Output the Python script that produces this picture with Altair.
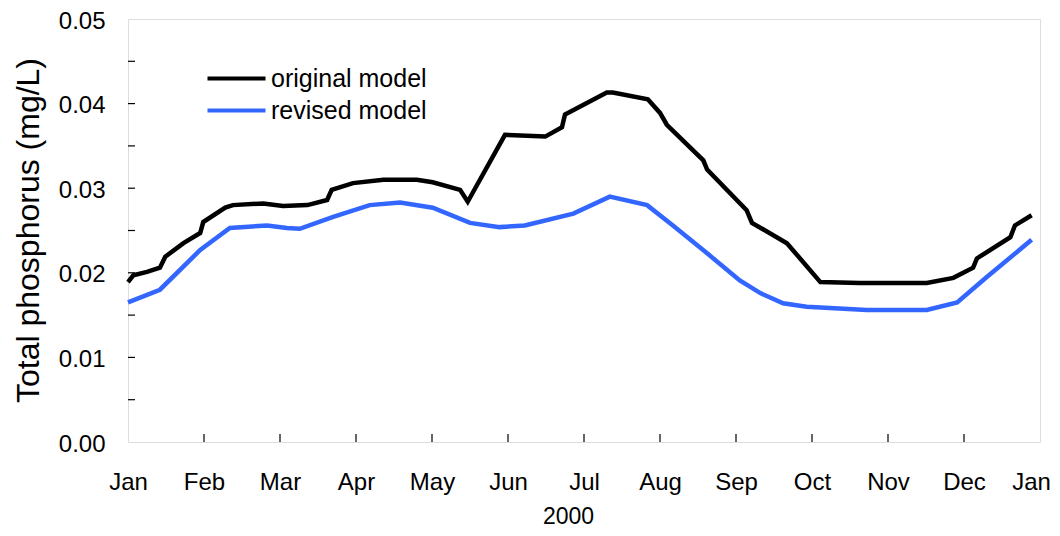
import altair as alt
import pandas as pd

# ---- data ----
month_labels = ["Jan", "Feb", "Mar", "Apr", "May", "Jun", "Jul", "Aug",
                "Sep", "Oct", "Nov", "Dec", "Jan"]

orig_month = [0.00, 0.07, 0.25, 0.42, 0.49, 0.73, 0.95, 0.99, 1.28, 1.38,
              1.78, 2.04, 2.36, 2.62, 2.68, 2.96, 3.36, 3.80, 4.01, 4.37,
              4.47, 4.96, 5.49, 5.71, 5.75, 6.30, 6.38, 6.84, 7.00, 7.09,
              7.57, 7.62, 8.14, 8.21, 8.67, 9.11, 9.63, 10.51, 10.86, 11.12,
              11.17, 11.61, 11.67, 11.89]
orig_value = [0.0189, 0.0197, 0.0201, 0.0206, 0.0219, 0.0235, 0.0247, 0.0260, 0.0277, 0.0280,
              0.0282, 0.0279, 0.0280, 0.0286, 0.0298, 0.0306, 0.0310, 0.0310, 0.0307, 0.0298,
              0.0284, 0.0363, 0.0361, 0.0372, 0.0387, 0.0413, 0.0413, 0.0405, 0.0389, 0.0375,
              0.0333, 0.0322, 0.0274, 0.0259, 0.0235, 0.0189, 0.0188, 0.0188, 0.0194, 0.0206,
              0.0217, 0.0242, 0.0256, 0.0268]

rev_month = [0.00, 0.42, 0.95, 1.34, 1.83, 2.09, 2.26, 2.70, 3.18, 3.58,
             4.01, 4.50, 4.89, 5.22, 5.86, 6.34, 6.83, 7.17, 7.62, 8.05,
             8.32, 8.62, 8.93, 9.72, 10.51, 10.91, 11.30, 11.89]
rev_value = [0.0165, 0.0180, 0.0227, 0.0253, 0.0256, 0.0253, 0.0252, 0.0266, 0.0280, 0.0283,
             0.0277, 0.0259, 0.0254, 0.0256, 0.0270, 0.0290, 0.0280, 0.0256, 0.0223, 0.0191,
             0.0176, 0.0164, 0.0160, 0.0156, 0.0156, 0.0165, 0.0195, 0.0239]

series_names = ["original model", "revised model"]
series_colors = ["#000000", "#3366ff"]

x_minor_ticks = list(range(1, 12))
y_minor_ticks = [0.005, 0.010, 0.015, 0.020, 0.025, 0.030, 0.035, 0.040, 0.045]

# ---- tables ----
df = pd.concat([
    pd.DataFrame({"month": orig_month, "value": orig_value, "series": series_names[0]}),
    pd.DataFrame({"month": rev_month, "value": rev_value, "series": series_names[1]}),
])
xt = pd.DataFrame({"month": x_minor_ticks})
yt = pd.DataFrame({"value": y_minor_ticks})

W, H = 912, 423
FONT = "Liberation Sans"

label_expr = "[" + ",".join(f"'{m}'" for m in month_labels) + "][datum.value]"

xscale = alt.Scale(domain=[0, 12], nice=False, zero=False)
yscale = alt.Scale(domain=[0, 0.05], nice=False)

xaxis = alt.Axis(values=list(range(13)), labelExpr=label_expr, ticks=False, domain=False,
                 grid=False, labelFontSize=24, labelFont=FONT, labelColor="black",
                 labelPadding=28, labelFlush=False, title="2000", titleFont=FONT,
                 titleFontSize=23, titleFontWeight="normal", titleColor="black",
                 titleX=440, titleY=81, titleAlign="center", titleBaseline="alphabetic",
                 labelOffset={"condition": {"test": "datum.value == 12", "value": -9},
                              "value": 0})
yaxis = alt.Axis(values=[0, 0.01, 0.02, 0.03, 0.04, 0.05], format=".2f", ticks=False,
                 domain=False, grid=False, labelFontSize=24, labelFont=FONT,
                 labelColor="black", labelPadding=23, labelFlush=False, labelOffset=2,
                 title="Total phosphorus (mg/L)", titleFont=FONT, titleFontSize=32,
                 titleFontWeight="normal", titleColor="black", titleX=-100, titleY=211,
                 titleAlign="center", titleBaseline="middle", titleAngle=-90)

lines = alt.Chart(df).mark_line(strokeWidth=4.5, interpolate="linear").encode(
    x=alt.X("month:Q", scale=xscale, axis=xaxis),
    y=alt.Y("value:Q", scale=yscale, axis=yaxis),
    color=alt.Color("series:N",
                    scale=alt.Scale(domain=series_names, range=series_colors),
                    legend=alt.Legend(orient="none", legendX=115, legendY=47,
                                      title=None, padding=0, rowPadding=6,
                                      symbolType="M-4.8,0H1", symbolSize=400,
                                      symbolStrokeWidth=4, labelFont=FONT,
                                      labelFontSize=25, labelColor="black",
                                      labelOffset=3)),
)

xticks = alt.Chart(xt).mark_rule(color="black", strokeWidth=1.2).encode(
    x=alt.X("month:Q", scale=xscale, axis=xaxis),
    y=alt.value(H),
    y2=alt.value(H - 8),
)
yticks = alt.Chart(yt).mark_rule(color="black", strokeWidth=1.2).encode(
    y=alt.Y("value:Q", scale=yscale, axis=yaxis),
    x=alt.value(0),
    x2=alt.value(7),
)

chart = alt.layer(xticks, yticks, lines).properties(
    width=W, height=H,
    autosize=alt.AutoSizeParams(type="none"),
    padding={"left": 120, "top": 11, "right": 12, "bottom": 86},
).configure_view(stroke="black", strokeWidth=2).configure(background="white")

chart.save("out.html", embed_options={"renderer": "svg", "actions": False})
